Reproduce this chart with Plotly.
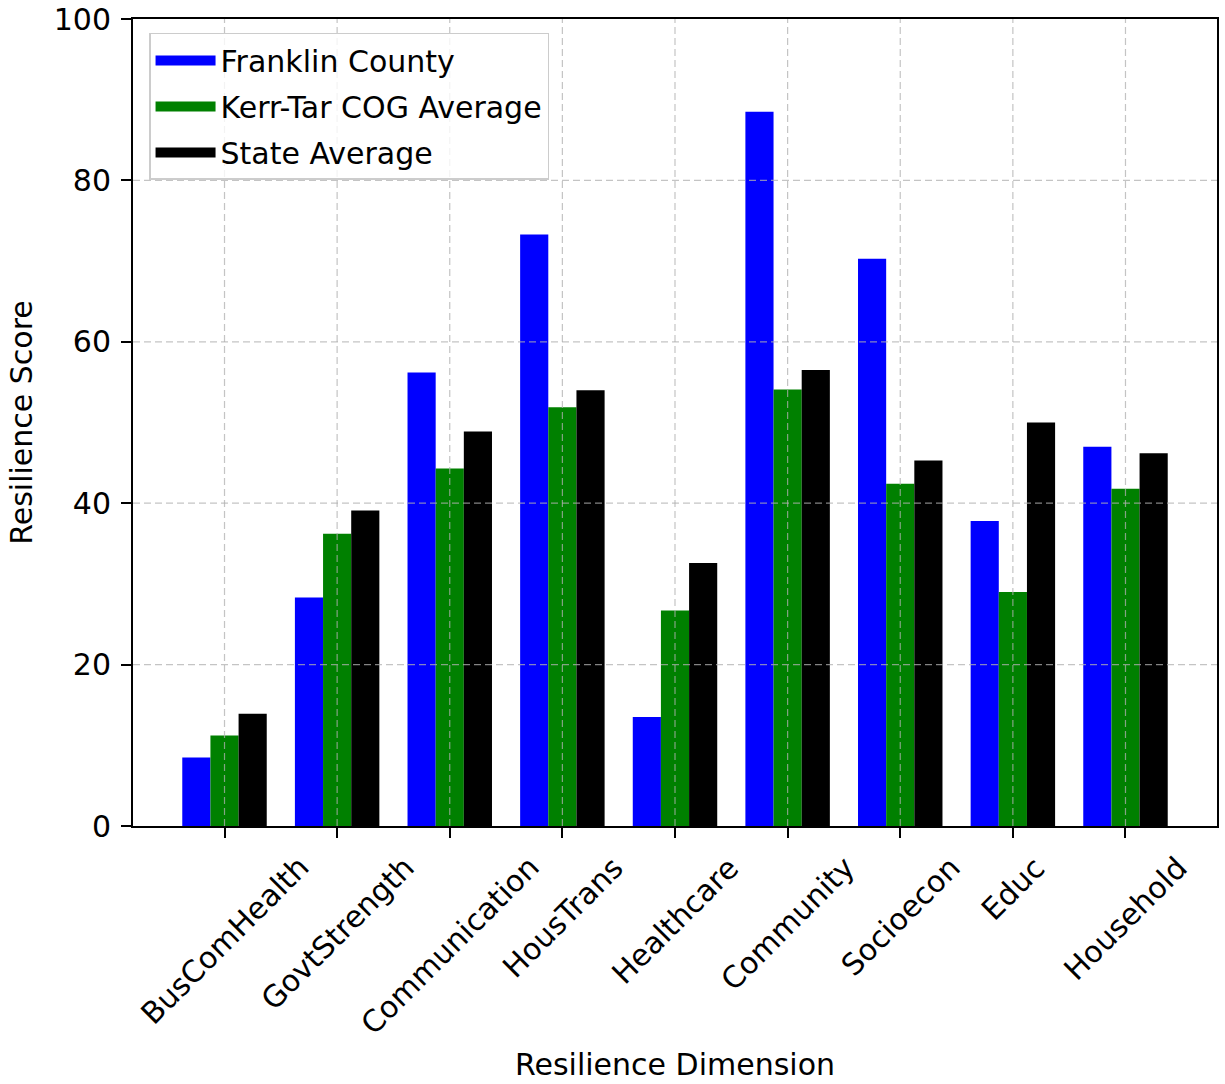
import plotly.graph_objects as go

categories = ["BusComHealth", "GovtStrength", "Communication", "HousTrans", "Healthcare",
              "Community", "Socioecon", "Educ", "Household"]
franklin = [8.5, 28.3, 56.2, 73.3, 13.5, 88.5, 70.3, 37.8, 47.0]
kerr_tar = [11.2, 36.2, 44.3, 51.9, 26.7, 54.1, 42.4, 29.0, 41.8]
state = [13.9, 39.1, 48.9, 54.0, 32.6, 56.5, 45.3, 50.0, 46.2]
series_names = ["Franklin County", "Kerr-Tar COG Average", "State Average"]
series_colors = ["#0000ff", "#008000", "#000000"]
y_ticks = [0, 20, 40, 60, 80, 100]

FONT = "DejaVu Sans"
FS = 30

fig = go.Figure()
for name, vals, col in zip(series_names, [franklin, kerr_tar, state], series_colors):
    fig.add_trace(go.Bar(x=categories, y=vals, name=name, legendgroup=name, showlegend=False,
                         marker=dict(color=col, line=dict(width=0))))
# legend entries (wide patches like the reference)
for name, col in zip(series_names, series_colors):
    fig.add_trace(go.Scatter(x=[None], y=[None], mode="lines", name=name, legendgroup=name,
                             line=dict(color=col, width=20), showlegend=True, hoverinfo="skip"))

grid_style = dict(color="rgba(176,176,176,0.75)", width=1.2, dash="7px,4px")
shapes = []
for c in categories:
    shapes.append(dict(type="line", xref="x", yref="paper", x0=c, x1=c, y0=0, y1=1,
                       line=grid_style, layer="above"))
for t in y_ticks[1:-1]:
    shapes.append(dict(type="line", xref="paper", yref="y", x0=0, x1=1, y0=t, y1=t,
                       line=grid_style, layer="above"))

annotations = []
for c in categories:
    annotations.append(dict(text=c, x=c, xref="x", y=0, yref="paper", xanchor="center",
                            yanchor="top", textangle=-45, showarrow=False, yshift=-21,
                            font=dict(family=FONT, size=FS, color="#000000")))

fig.update_layout(
    width=1225, height=1084,
    margin=dict(l=133, r=8, t=19, b=258, autoexpand=False),
    paper_bgcolor="white", plot_bgcolor="white",
    font=dict(family=FONT, size=FS, color="#000000"),
    barmode="group", bargap=0.25, bargroupgap=0,
    shapes=shapes, annotations=annotations,
    showlegend=True,
    legend=dict(x=0.0148, y=0.9827, xanchor="left", yanchor="top",
                bgcolor="rgba(255,255,255,0.8)", bordercolor="#cccccc", borderwidth=1.5,
                font=dict(family=FONT, size=FS, color="#000000"),
                traceorder="grouped", tracegroupgap=4, itemwidth=60),
)
fig.update_xaxes(
    type="category", range=[-0.8125, 8.8125],
    showgrid=False, showline=True, linecolor="black", linewidth=2, mirror=True,
    ticks="outside", ticklen=10, tickwidth=2, tickcolor="black",
    showticklabels=False, automargin=False,
    title=dict(text="Resilience Dimension", standoff=217,
               font=dict(family=FONT, size=FS, color="#000000")),
)
fig.update_yaxes(
    range=[0, 100], tickvals=y_ticks, showgrid=False, zeroline=False,
    showline=True, linecolor="black", linewidth=2, mirror=True,
    ticks="outside", ticklen=10, tickwidth=2, tickcolor="black",
    ticklabelstandoff=4, automargin=False,
    title=dict(text="Resilience Score", standoff=12,
               font=dict(family=FONT, size=FS, color="#000000")),
)
fig.write_html("out.html", config={"displayModeBar": False},
               post_script="document.body.style.margin='0';")
